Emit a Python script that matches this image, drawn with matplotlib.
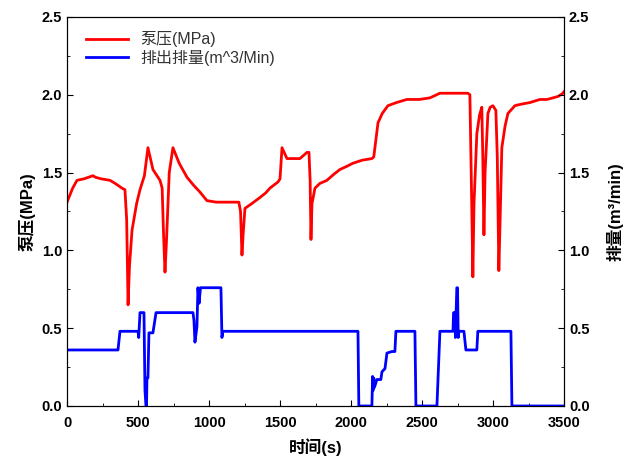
import matplotlib
matplotlib.use('Agg')
import matplotlib.pyplot as plt
from matplotlib.ticker import MultipleLocator

plt.rcParams['font.family'] = ['Liberation Sans', 'Noto Sans CJK SC', 'DejaVu Sans']

# pump pressure (MPa) vs time (s)
t_p = [0, 40, 70, 120, 183, 200, 240, 303, 340, 387, 408, 420, 430, 440, 458, 490, 514, 545, 570,
       590, 605, 655, 670, 680, 690, 700, 720, 746, 790, 845, 890, 936, 985, 1050, 1120, 1169, 1210,
       1222, 1232, 1240, 1253, 1300, 1359, 1400, 1429, 1486, 1500, 1514, 1549, 1600, 1640, 1690,
       1704, 1712, 1718, 1725, 1746, 1780, 1830, 1880, 1922, 1970, 2013, 2080, 2147, 2160, 2190,
       2220, 2260, 2320, 2393, 2480, 2555, 2626, 2700, 2823, 2837, 2850, 2858, 2866, 2886, 2905,
       2921, 2928, 2936, 2944, 2964, 2980, 2999, 3020, 3030, 3041, 3050, 3062, 3085, 3105, 3154,
       3200, 3260, 3330, 3380, 3421, 3460, 3492, 3500]
p = [1.31, 1.40, 1.45, 1.46, 1.48, 1.47, 1.46, 1.45, 1.43, 1.40, 1.39, 1.20, 0.65, 0.90, 1.13, 1.30,
     1.39, 1.48, 1.66, 1.58, 1.52, 1.45, 1.40, 1.10, 0.86, 1.05, 1.50, 1.66, 1.56, 1.47, 1.42,
     1.375, 1.32, 1.31, 1.31, 1.31, 1.31, 1.25, 0.97, 1.10, 1.27, 1.30, 1.34, 1.37, 1.40, 1.44,
     1.46, 1.66, 1.59, 1.59, 1.59, 1.63, 1.63, 1.45, 1.07, 1.30, 1.40, 1.43, 1.45, 1.49, 1.52,
     1.54, 1.56, 1.58, 1.59, 1.60, 1.82, 1.88, 1.93, 1.95, 1.97, 1.97, 1.98, 2.01, 2.01, 2.01,
     2.00, 1.30, 0.83, 1.30, 1.75, 1.87, 1.92, 1.60, 1.10, 1.50, 1.88, 1.92, 1.93, 1.90, 1.60,
     0.87, 1.20, 1.66, 1.80, 1.88, 1.93, 1.94, 1.95, 1.97, 1.97, 1.98, 1.99, 2.01, 2.02]

# displacement (m^3/min) vs time (s)
t_q = [0, 359, 373, 500, 505, 514, 542, 549, 556, 560, 563, 570, 577, 605, 627, 887, 894, 901, 915,
       922, 930, 940, 957, 1084, 1091, 1098, 2049, 2055, 2147, 2152, 2155, 2160, 2165, 2182, 2210,
       2218, 2239, 2253, 2288, 2309, 2316, 2450, 2457, 2605, 2626, 2718, 2722, 2732, 2735, 2740,
       2745, 2750, 2755, 2760, 2795, 2809, 2886, 2893, 3126, 3133, 3500]
q = [0.36, 0.36, 0.48, 0.48, 0.44, 0.60, 0.60, 0.10, 0.00, 0.00, 0.18, 0.18, 0.47, 0.47, 0.60, 0.60,
     0.55, 0.41, 0.51, 0.76, 0.66, 0.76, 0.76, 0.76, 0.44, 0.48, 0.48, 0.00, 0.00, 0.19, 0.10, 0.18,
     0.12, 0.17, 0.17, 0.22, 0.24, 0.34, 0.35, 0.35, 0.48, 0.48, 0.00, 0.00, 0.48, 0.48, 0.60, 0.60,
     0.44, 0.60, 0.76, 0.76, 0.44, 0.48, 0.48, 0.36, 0.36, 0.48, 0.48, 0.00, 0.00]

fig = plt.figure(figsize=(6.4, 4.59), dpi=100)
ax = fig.add_axes([0.1047, 0.1155, 0.7766, 0.8475])
ax2 = ax.twinx()

l1, = ax.plot(t_p, p, color='#ff0000', lw=2.0, label='泵压(MPa)')
l2, = ax2.plot(t_q, q, color='#0000ff', lw=2.0, label='排出排量(m^3/Min)')

for a in (ax, ax2):
    a.set_ylim(0, 2.5)
    a.yaxis.set_major_locator(MultipleLocator(0.5))
    a.yaxis.set_minor_locator(MultipleLocator(0.25))
    a.tick_params(which='both', direction='in', labelsize=10.5)
    a.tick_params(which='major', length=4)
    a.tick_params(which='minor', length=2.5)
    for lab in a.get_xticklabels() + a.get_yticklabels():
        lab.set_fontweight('bold')

ax.set_xlim(0, 3500)
ax.xaxis.set_major_locator(MultipleLocator(500))
ax.xaxis.set_minor_locator(MultipleLocator(250))
ax.tick_params(top=False, which='both')
ax.tick_params(axis='x', pad=7)
ax2.tick_params(left=False, which='both')

ax.set_xlabel('时间(s)', fontsize=12, fontweight='bold', labelpad=6)
ax.set_ylabel('泵压(MPa)', fontsize=12, fontweight='bold', labelpad=4)
ax2.set_ylabel('排量(m³/min)', fontsize=12, fontweight='bold', labelpad=12)

leg = ax.legend(handles=[l1, l2], loc='upper left', frameon=False, fontsize=11.5,
                handlelength=2.6, borderaxespad=0.5, labelspacing=0.15,
                bbox_to_anchor=(0.01, 1.0))
for txt in leg.get_texts():
    txt.set_color('#333333')

fig.savefig('out.png', dpi=100)
